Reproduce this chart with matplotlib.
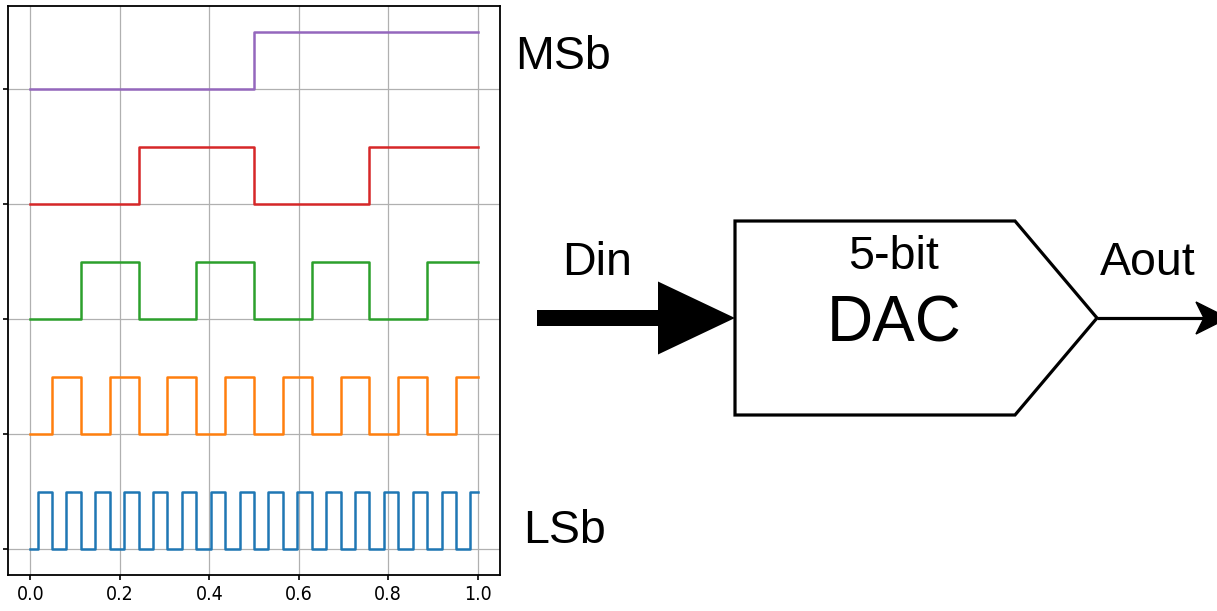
import numpy as np
import matplotlib
matplotlib.use("Agg")
import matplotlib.pyplot as plt
from matplotlib.patches import Polygon, FancyArrow

# ---- data ----
codes = [0, 1, 2, 3, 4, 5, 6, 7, 8, 9, 10, 11, 12, 13, 14, 15,
         16, 17, 18, 19, 20, 21, 22, 23, 24, 25, 26, 27, 28, 29, 30, 31]
sample_times = np.linspace(0.0, 1.0, len(codes))
bit_names = ["LSb", "bit1", "bit2", "bit3", "MSb"]
bit_colors = ["#1f77b4", "#ff7f0e", "#2ca02c", "#d62728", "#9467bd"]
row_offsets = [0, 2, 4, 6, 8]
x_ticks = [0.0, 0.2, 0.4, 0.6, 0.8, 1.0]
x_tick_labels = ["0.0", "0.2", "0.4", "0.6", "0.8", "1.0"]

W, H = 1217, 611
fig = plt.figure(figsize=(W / 100, H / 100), dpi=100)

ax = fig.add_axes([8 / W, 1 - 575 / H, 492 / W, 569 / H])
codes_arr = np.array(codes)
for i, (off, col) in enumerate(zip(row_offsets, bit_colors)):
    bits = (codes_arr >> i) & 1
    ax.step(sample_times, bits + off, where="mid", color=col, lw=1.8)

ax.set_yticks(row_offsets)
ax.set_yticklabels([""] * len(row_offsets))
ax.set_xticks(x_ticks)
ax.set_xticklabels(x_tick_labels, fontsize=14, fontstretch="condensed",
                   family=["DejaVu Sans"])
ax.grid(True, color="#b0b0b0", lw=0.9)
for s in ax.spines.values():
    s.set_linewidth(1.3)
ax.tick_params(width=1.2, pad=4)

# ---- diagram overlay ----
ov = fig.add_axes([0, 0, 1, 1], zorder=5)
ov.set_xlim(0, W)
ov.set_ylim(H, 0)
ov.axis("off")
ov.patch.set_alpha(0)

font = ["Liberation Sans", "DejaVu Sans"]
ov.text(515, 69, "MSb", fontsize=33.5, family=font, ha="left", va="baseline")
ov.text(523, 543, "LSb", fontsize=33.5, family=font, ha="left", va="baseline")
ov.text(597, 275, "Din", fontsize=33.5, family=font, ha="center", va="baseline")
ov.text(894, 269, "5-bit", fontsize=33.5, family=font, ha="center", va="baseline")
ov.text(894, 342, "DAC", fontsize=46, family=font, ha="center", va="baseline")
ov.text(1148, 275, "Aout", fontsize=33.5, family=font, ha="center", va="baseline")

block = Polygon([(735, 221), (1015, 221), (1097, 318), (1015, 415), (735, 415)],
                closed=True, fill=False, ec="black", lw=2.3, joinstyle="miter")
ov.add_patch(block)

din = FancyArrow(537, 318, 198, 0, width=16, head_width=73, head_length=77,
                 length_includes_head=True, color="black", lw=0)
ov.add_patch(din)

ov.plot([1097, 1205], [318, 318], color="black", lw=2.3, solid_capstyle="butt")
head = Polygon([(1228, 318), (1196, 302), (1204, 318), (1196, 334)],
               closed=True, fc="black", ec="black", lw=1)
ov.add_patch(head)

fig.savefig("out.png", dpi=100)
